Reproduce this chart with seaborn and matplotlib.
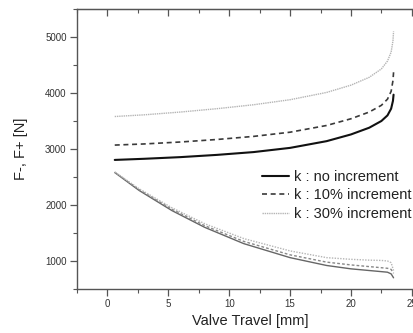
import numpy as np
import pandas as pd
import matplotlib
matplotlib.use("Agg")
import matplotlib.pyplot as plt
import seaborn as sns

# ---- data ----
x_up = [0.6, 3, 6, 9, 12, 15, 18, 20, 21.5, 22.5, 23.0, 23.3, 23.45, 23.5]
fplus_k0 = [2805, 2825, 2855, 2895, 2945, 3020, 3140, 3260, 3380, 3500, 3600, 3720, 3860, 3970]
fplus_k10 = [3070, 3090, 3125, 3170, 3225, 3300, 3420, 3540, 3660, 3780, 3890, 4030, 4220, 4370]
fplus_k30 = [3580, 3610, 3660, 3720, 3790, 3880, 4010, 4140, 4280, 4430, 4570, 4730, 4930, 5100]

x_low = [0.6, 2.6, 5.3, 8, 11.2, 15, 18, 20, 21.5, 22.5, 23.0, 23.3, 23.5]
fminus_k0 = [2580, 2260, 1900, 1600, 1310, 1060, 920, 860, 830, 810, 800, 770, 700]
fminus_k10 = [2585, 2275, 1925, 1630, 1350, 1110, 980, 930, 900, 880, 870, 850, 780]
fminus_k30 = [2590, 2290, 1950, 1665, 1400, 1180, 1060, 1030, 1015, 1010, 1000, 970, 830]

labels = ["k : no increment", "k : 10% increment", "k : 30% increment"]
x_ticks = [0, 5, 10, 15, 20, 25]
y_ticks = [1000, 2000, 3000, 4000, 5000]

sns.set_style("white")
plt.rcParams["font.family"] = ["Liberation Sans", "DejaVu Sans"]

fig = plt.figure(figsize=(4.14, 3.33), dpi=100)
W, H = 414, 333
left, right, top, bottom = 77, 424, 9, 289
ax = fig.add_axes([left / W, 1 - bottom / H, (right - left) / W, (bottom - top) / H])

styles = [
    dict(color="#111111", lw=1.5, ls="-"),
    dict(color="#3a3a3a", lw=1.2, ls=(0, (3, 2.2))),
    dict(color="#b5b5b5", lw=1.0, ls=(0, (1, 0.6))),
]
low_styles = [
    dict(color="#666666", lw=1.0, ls="-"),
    dict(color="#888888", lw=1.0, ls=(0, (2, 1.5))),
    dict(color="#b5b5b5", lw=1.0, ls=(0, (1, 1))),
]

for yv, st, lab in zip([fplus_k0, fplus_k10, fplus_k30], styles, labels):
    sns.lineplot(x=x_up, y=yv, ax=ax, color=st["color"], linewidth=st["lw"],
                 linestyle=st["ls"], label=lab, sort=False, estimator=None)
for yv, st in zip([fminus_k0, fminus_k10, fminus_k30], low_styles):
    sns.lineplot(x=x_low, y=yv, ax=ax, color=st["color"], linewidth=st["lw"],
                 linestyle=st["ls"], label="_nolegend_", sort=False, estimator=None)

ax.set_xlim(-2, 26)
ax.set_ylim(500, 5500)
ax.set_xticks(x_ticks)
ax.set_yticks(y_ticks)
ax.set_xticks(np.arange(-2.5, 26, 2.5), minor=True)
ax.set_yticks(np.arange(500, 5501, 500), minor=True)

spine_c = "#555555"
for s in ax.spines.values():
    s.set_color(spine_c)
    s.set_linewidth(1.0)
ax.spines["right"].set_visible(False)

ax.tick_params(axis="both", which="major", direction="out", length=5, width=0.9,
               color=spine_c, labelsize=7, labelcolor="#333333", pad=2.5)
ax.tick_params(axis="both", which="minor", direction="out", length=3, width=0.8,
               color=spine_c)
ax.tick_params(axis="x", which="both", bottom=True, top=False)
ax.tick_params(axis="y", which="both", left=True, right=False)

# top ticks pointing inward, without labels
sec = ax.secondary_xaxis("top")
sec.set_xticks(x_ticks)
sec.set_xticks(np.arange(-2.5, 26, 2.5), minor=True)
sec.tick_params(which="major", direction="in", length=5, width=0.9, color=spine_c,
                labeltop=False)
sec.tick_params(which="minor", direction="in", length=3, width=0.8, color=spine_c)
sec.spines["top"].set_color(spine_c)
sec.set_xticklabels([])

ax.set_xlabel("Valve Travel [mm]", fontsize=10.5, color="#222222")
ax.set_ylabel("F-, F+ [N]", fontsize=10.5, color="#222222")
ax.xaxis.set_label_coords(0.5, -0.09)
ax.yaxis.set_label_coords(-0.14, 0.5)

leg = ax.legend(loc="upper left", bbox_to_anchor=(262 / W, 1 - 170 / H),
                bbox_transform=fig.transFigure, frameon=False, fontsize=10.5,
                handlelength=1.85, handletextpad=0.35, labelspacing=0.3,
                borderpad=0, borderaxespad=0)
for t in leg.get_texts():
    t.set_color("#222222")

fig.savefig("out.png", dpi=100)
